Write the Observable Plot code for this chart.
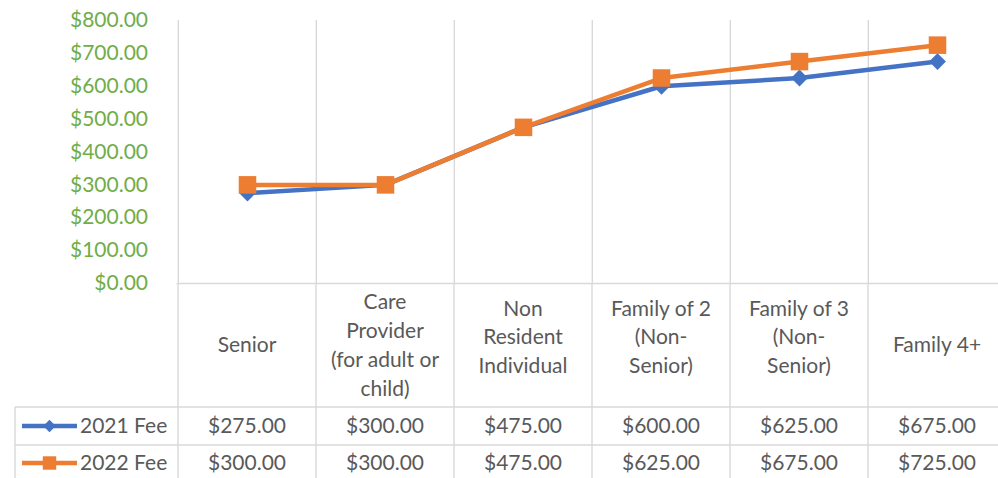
<!DOCTYPE html>
<html><head><meta charset="utf-8">
<script src="https://cdn.jsdelivr.net/npm/d3@7"></script>
<script src="https://cdn.jsdelivr.net/npm/@observablehq/plot@0.6"></script>
<style>
body{margin:0;background:#fff;}
#chart{position:relative;width:998px;height:478px;overflow:hidden;}
</style>
</head><body><div id="chart"></div>
<script>
const categories = ["Senior","Care Provider (for adult or child)","Non Resident Individual","Family of 2 (Non-Senior)","Family of 3 (Non-Senior)","Family 4+"];
const categoryLines = [["Senior"],["Care","Provider","(for adult or","child)"],["Non","Resident","Individual"],["Family of 2","(Non-","Senior)"],["Family of 3","(Non-","Senior)"],["Family 4+"]];
const seriesNames = ["2021 Fee","2022 Fee"];
const fee2021 = [275,300,475,600,625,675];
const fee2022 = [300,300,475,625,675,725];
const yTicks = [0,100,200,300,400,500,600,700,800];

const BLUE = "#4472C4", ORANGE = "#ED7D31", GRID = "#D9D9D9", TEXT = "#595959", YCOL = "#70AD47";
const FONT = "Lato, 'Open Sans', sans-serif";
const FS = 21;
const fmt = d => "$" + d3.format(",.2f")(d);

const d2021 = categories.map((c,i)=>({cat:c, value:fee2021[i]}));
const d2022 = categories.map((c,i)=>({cat:c, value:fee2022[i]}));

const W = 998, H = 478;
const plot = Plot.plot({
  width: W, height: H,
  marginTop: 20, marginBottom: 195, marginLeft: 176.5, marginRight: 0,
  style: {fontFamily: FONT, fontSize: FS + "px", background: "white", overflow: "visible"},
  x: {type: "point", domain: categories, range: [245.7, 937.7], padding: 0, axis: null},
  y: {domain: [0, 800]},
  marks: [
    Plot.ruleX(categories, {x: d => d, dx: -69.2, stroke: GRID, strokeWidth: 1.4}),
    Plot.ruleY([0], {stroke: GRID, strokeWidth: 1.4}),
    Plot.axisY({ticks: yTicks, tickFormat: fmt, tickSize: 0, tickPadding: 29, color: YCOL, label: null, fontSize: FS, fontFamily: FONT}),
    Plot.line(d2021, {x: "cat", y: "value", stroke: BLUE, strokeWidth: 4.5}),
    Plot.dot(d2021, {x: "cat", y: "value", symbol: "diamond2", r: 7.6, fill: BLUE, stroke: "none"}),
    Plot.line(d2022, {x: "cat", y: "value", stroke: ORANGE, strokeWidth: 4.5}),
    Plot.dot(d2022, {x: "cat", y: "value", symbol: "square", r: 9.9, fill: ORANGE, stroke: "none"})
  ]
});
document.getElementById("chart").appendChild(plot);

// Data table below the plot, positioned with the plot's own x scale
const xs = plot.scale("x");
const step = xs.apply(categories[1]) - xs.apply(categories[0]);
const svg = d3.select(plot);
const g = svg.append("g").attr("font-family", FONT).attr("font-size", FS).attr("fill", TEXT);
const yTop = 283, yRow1 = 407, yRow2 = 445, yBot = H;
const lineAttr = sel => sel.attr("stroke", GRID).attr("stroke-width", 1.4);
categories.forEach((c,i) => {
  const xb = xs.apply(c) - step/2;
  lineAttr(g.append("line").attr("x1", xb).attr("x2", xb).attr("y1", yTop).attr("y2", yBot));
});
lineAttr(g.append("line").attr("x1", 15).attr("x2", 15).attr("y1", yRow1).attr("y2", yBot));
[yRow1, yRow2].forEach(y => lineAttr(g.append("line").attr("x1", 15).attr("x2", W).attr("y1", y).attr("y2", y)));

// header labels
categories.forEach((c,i) => {
  const lines = categoryLines[i];
  const n = lines.length;
  const center = n === 3 ? 337 : 345;
  const lh = 28.8;
  lines.forEach((t,j) => {
    g.append("text").attr("x", xs.apply(c)).attr("y", center + (j - (n-1)/2)*lh)
      .attr("dy", "0.35em").attr("text-anchor", "middle").text(t);
  });
});

// value rows with legend keys
const diamondSym = d3.symbolDiamond2 || {draw(ctx, size){const r=Math.sqrt(size)*0.62625;ctx.moveTo(0,-r);ctx.lineTo(r,0);ctx.lineTo(0,r);ctx.lineTo(-r,0);ctx.closePath();}};
const rows = [
  {name: seriesNames[0], vals: fee2021, color: BLUE, sym: diamondSym, size: 100, y: 426},
  {name: seriesNames[1], vals: fee2022, color: ORANGE, sym: d3.symbolSquare, size: 180, y: 463}
];
rows.forEach(r => {
  g.append("line").attr("x1", 22).attr("x2", 77).attr("y1", r.y).attr("y2", r.y)
    .attr("stroke", r.color).attr("stroke-width", 4.5);
  g.append("path").attr("d", d3.symbol(r.sym, r.size)()).attr("transform", `translate(49.5,${r.y})`).attr("fill", r.color);
  g.append("text").attr("x", 80).attr("y", r.y).attr("dy", "0.35em").attr("text-anchor", "start").text(r.name);
  categories.forEach((c,i) => {
    g.append("text").attr("x", xs.apply(c)).attr("y", r.y).attr("dy", "0.35em")
      .attr("text-anchor", "middle").text(fmt(r.vals[i]));
  });
});
</script>
</body></html>
